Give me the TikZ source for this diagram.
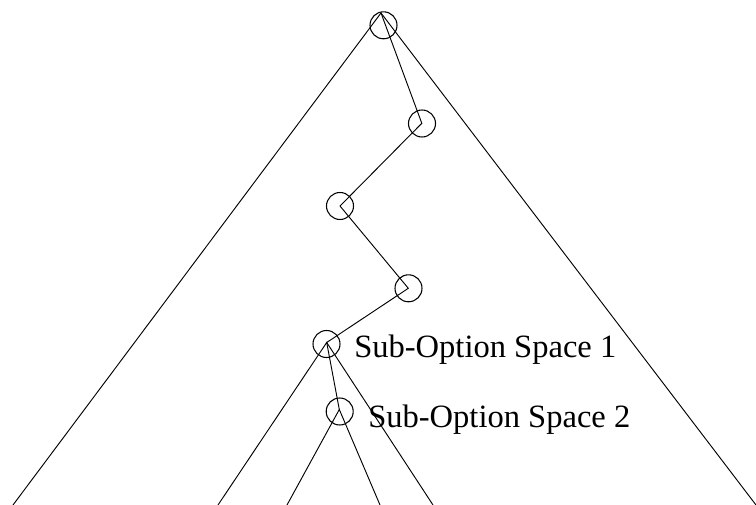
\documentclass[tikz,border=0pt]{standalone}
\usepackage{fontspec}
\setmainfont{Liberation Serif}
\begin{document}
\begin{tikzpicture}[x=0.75pt,y=-0.75pt,
  ring/.style={circle,draw,line width=0.8pt,minimum size=20.25pt,inner sep=0pt},
  branch/.style={line width=0.7pt},
  spacelabel/.style={anchor=base west,font=\fontsize{24.4pt}{28pt}\selectfont,inner sep=0pt}]
\useasboundingbox (0,0) rectangle (756,505);
% decision nodes
\node[ring] (n1) at (383.5,25.3) {};
\node[ring] (n2) at (422,123.5) {};
\node[ring] (n3) at (340,206) {};
\node[ring] (n4) at (408.5,288.3) {};
\node[ring] (n5) at (326.5,344) {};
\node[ring] (n6) at (339.7,411.5) {};
% branch points
\coordinate (r) at (381,13);
\coordinate (p2) at (421.8,123.3);
\coordinate (p3) at (340,206);
\coordinate (p4) at (408.3,288.3);
\coordinate (p5) at (326.7,342.5);
\coordinate (p6) at (339.3,409.5);
% open ends at the bottom edge
\coordinate (b1) at (13,505);
\coordinate (b2) at (218,505);
\coordinate (b3) at (287,505);
\coordinate (b4) at (380,505);
\coordinate (b5) at (433,505);
\coordinate (b6) at (756,505);
% branches
\draw[branch] (b1) -- (r) -- (b6);
\draw[branch] (r) -- (p2) -- (p3) -- (p4) -- (p5) -- (p6);
\draw[branch] (b2) -- (p5) -- (b5);
\draw[branch] (b3) -- (p6) -- (b4);
% labels
\node[spacelabel] (l1) at (354,357.5) {Sub-Option Space 1};
\node[spacelabel] (l2) at (368,427) {Sub-Option Space 2};
\end{tikzpicture}
\end{document}
